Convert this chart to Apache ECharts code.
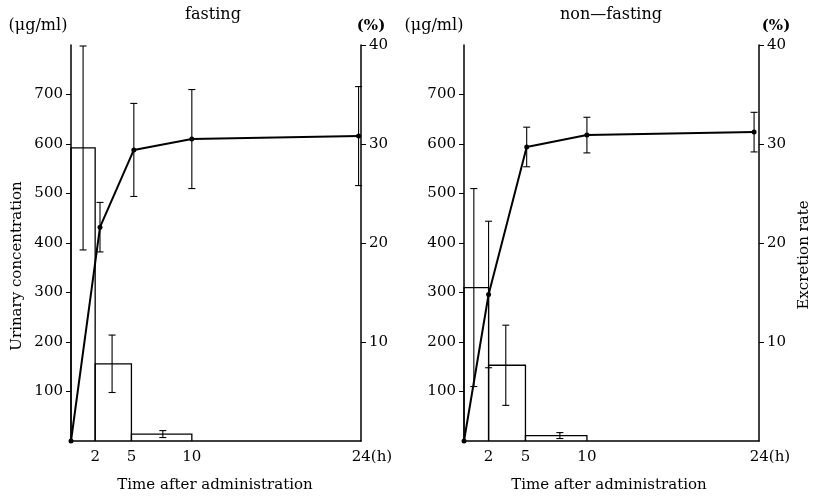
<!DOCTYPE html>
<html>
<head>
<meta charset="utf-8">
<script src="https://cdn.jsdelivr.net/npm/echarts@6/dist/echarts.min.js"></script>
<style>
  html, body { margin: 0; padding: 0; background: #fff; }
  #chart { width: 815px; height: 497px; }
</style>
</head>
<body>
<div id="chart"></div>
<script>
// 数据（小时）
var binEdges = [0, 2, 5, 10];
var xTicks = [2, 5, 10, 24];
var concTicks = [100, 200, 300, 400, 500, 600, 700];
var rateTicks = [10, 20, 30, 40];

// fasting
var fastConc = [592, 156, 14];
var fastConcSd = [206, 58, 7];
var fastConcErrX = [1.0, 3.4, 7.6];
var fastRateX = [0, 2.4, 5.2, 10, 23.8];
var fastRate = [0, 21.6, 29.4, 30.5, 30.8];
var fastRateSd = [0, 2.5, 4.7, 5.0, 5.0];

// non-fasting
var nonConc = [310, 153, 11];
var nonConcSd = [200, 81, 6];
var nonConcErrX = [0.8, 3.4, 7.8];
var nonRateX = [0, 2, 5.1, 10, 23.6];
var nonRate = [0, 14.8, 29.7, 30.9, 31.2];
var nonRateSd = [0, 7.4, 2.0, 1.8, 2.0];

var FONT = 'DejaVu Serif';

function bars(conc) {
  var out = [];
  for (var i = 0; i < conc.length; i++) out.push([binEdges[i], binEdges[i + 1], conc[i]]);
  return out;
}
function errs(xs, ys, sds) {
  var out = [];
  for (var i = 0; i < xs.length; i++) if (sds[i] > 0) out.push([xs[i], ys[i], sds[i]]);
  return out;
}
function pts(xs, ys) {
  return xs.map(function (x, i) { return [x, ys[i]]; });
}

// 阶梯柱（区间浓度）
function renderStep(params, api) {
  var p0 = api.coord([api.value(0), api.value(2)]);
  var p1 = api.coord([api.value(1), 0]);
  return {
    type: 'polyline',
    shape: { points: [[p0[0], p1[1]], [p0[0], p0[1]], [p1[0], p0[1]], [p1[0], p1[1]]] },
    style: { stroke: '#000', fill: null, lineWidth: 1.3 }
  };
}
// 误差线
function renderErr(params, api) {
  var x = api.value(0), m = api.value(1), s = api.value(2);
  var top = api.coord([x, m + s]);
  var bot = api.coord([x, m - s]);
  var c = 3.5;
  var st = { stroke: '#000', lineWidth: 1.1 };
  return {
    type: 'group',
    children: [
      { type: 'line', shape: { x1: top[0], y1: top[1], x2: bot[0], y2: bot[1] }, style: st },
      { type: 'line', shape: { x1: top[0] - c, y1: top[1], x2: top[0] + c, y2: top[1] }, style: st },
      { type: 'line', shape: { x1: bot[0] - c, y1: bot[1], x2: bot[0] + c, y2: bot[1] }, style: st }
    ]
  };
}

function xAxis(grid) {
  return {
    type: 'value', gridIndex: grid, min: 0, max: 24,
    axisLine: { lineStyle: { color: '#000', width: 1.5 } },
    axisTick: { show: false },
    splitLine: { show: false },
    axisLabel: {
      customValues: xTicks, margin: 9, color: '#000', fontFamily: FONT, fontSize: 15,
      formatter: function (v) { return v === 24 ? '{pad|}24(h)' : String(v); },
      rich: { pad: { width: 22 } }
    }
  };
}
function yAxis(grid, pos, max, ticks) {
  return {
    type: 'value', gridIndex: grid, position: pos, min: 0, max: max,
    axisLine: { show: true, onZero: false, lineStyle: { color: '#000', width: 1.5 } },
    axisTick: { show: true, customValues: ticks, length: 5, lineStyle: { color: '#000', width: 1 } },
    splitLine: { show: false },
    axisLabel: { customValues: ticks, margin: 8, color: '#000', fontFamily: FONT, fontSize: 15 }
  };
}

function txt(x, y, s, opts) {
  var st = { text: s, fill: '#000', font: (opts && opts.font) || ('15px "' + FONT + '"'),
    textAlign: 'center', textVerticalAlign: 'middle' };
  return { type: 'text', x: x, y: y, rotation: (opts && opts.rot) || 0, style: st, silent: true };
}

var chart = echarts.init(document.getElementById('chart'));
var option = {
  backgroundColor: '#fff',
  animation: false,
  grid: [
    { left: 71, width: 290, top: 45, height: 396 },
    { left: 464, width: 295, top: 45, height: 396 }
  ],
  xAxis: [xAxis(0), xAxis(1)],
  yAxis: [
    yAxis(0, 'left', 800, concTicks),
    yAxis(0, 'right', 40, rateTicks),
    yAxis(1, 'left', 800, concTicks),
    yAxis(1, 'right', 40, rateTicks)
  ],
  series: [
    { type: 'custom', xAxisIndex: 0, yAxisIndex: 0, data: bars(fastConc), renderItem: renderStep, encode: { x: [0, 1], y: 2 } },
    { type: 'custom', xAxisIndex: 0, yAxisIndex: 0, data: errs(fastConcErrX, fastConc, fastConcSd), renderItem: renderErr, encode: { x: 0, y: 1 } },
    { type: 'line', xAxisIndex: 0, yAxisIndex: 1, data: pts(fastRateX, fastRate), symbol: 'circle', symbolSize: 5,
      itemStyle: { color: '#000' }, lineStyle: { color: '#000', width: 2 } },
    { type: 'custom', xAxisIndex: 0, yAxisIndex: 1, data: errs(fastRateX, fastRate, fastRateSd), renderItem: renderErr, encode: { x: 0, y: 1 } },

    { type: 'custom', xAxisIndex: 1, yAxisIndex: 2, data: bars(nonConc), renderItem: renderStep, encode: { x: [0, 1], y: 2 } },
    { type: 'custom', xAxisIndex: 1, yAxisIndex: 2, data: errs(nonConcErrX, nonConc, nonConcSd), renderItem: renderErr, encode: { x: 0, y: 1 } },
    { type: 'line', xAxisIndex: 1, yAxisIndex: 3, data: pts(nonRateX, nonRate), symbol: 'circle', symbolSize: 5,
      itemStyle: { color: '#000' }, lineStyle: { color: '#000', width: 2 } },
    { type: 'custom', xAxisIndex: 1, yAxisIndex: 3, data: errs(nonRateX, nonRate, nonRateSd), renderItem: renderErr, encode: { x: 0, y: 1 } }
  ],
  graphic: [
    txt(213, 15, 'fasting', { font: '16px "' + FONT + '"' }),
    txt(611, 15, 'non—fasting', { font: '16px "' + FONT + '"' }),
    txt(38, 26, '(μg/ml)', { font: '16px "' + FONT + '"' }),
    txt(434, 26, '(μg/ml)', { font: '16px "' + FONT + '"' }),
    txt(371, 26, '(%)', { font: 'bold 15px "' + FONT + '"' }),
    txt(776, 26, '(%)', { font: 'bold 15px "' + FONT + '"' }),
    txt(215, 485, 'Time after administration'),
    txt(609, 485, 'Time after administration'),
    txt(17, 266, 'Urinary concentration', { rot: Math.PI / 2 }),
    txt(804, 255, 'Excretion rate', { rot: Math.PI / 2 })
  ]
};
chart.setOption(option);
</script>
</body>
</html>
